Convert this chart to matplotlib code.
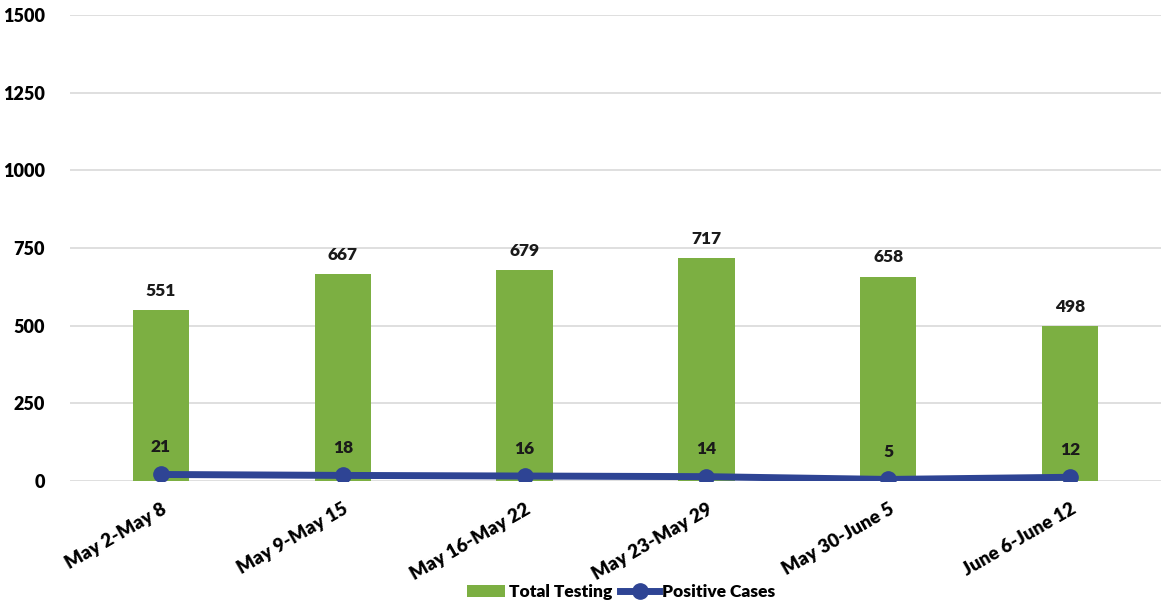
import matplotlib
matplotlib.use("Agg")
import matplotlib.pyplot as plt

categories = ["May 2-May 8", "May 9-May 15", "May 16-May 22", "May 23-May 29", "May 30-June 5", "June 6-June 12"]
total_testing = [551, 667, 679, 717, 658, 498]
positive_cases = [21, 18, 16, 14, 5, 12]
y_ticks = [0, 250, 500, 750, 1000, 1250, 1500]

plt.rcParams['font.family'] = ['Lato', 'DejaVu Sans']
plt.rcParams['font.weight'] = 'bold'

fig = plt.figure(figsize=(11.61, 6.06), dpi=100)
ax = fig.add_axes([70/1161, 1 - 481/606, (1161 - 70)/1161, (481 - 15)/606])

x = list(range(len(categories)))
green = "#7CAF42"
blue = "#2E4494"
bars = ax.bar(x, total_testing, width=0.31, color=green, zorder=2, label="Total Testing")
line, = ax.plot(x, positive_cases, color=blue, lw=5, marker='o', ms=11, zorder=3, label="Positive Cases")

for xi, v in zip(x, total_testing):
    ax.annotate(str(v), (xi, v), xytext=(0, 8), textcoords='offset points',
                ha='center', va='bottom', fontsize=12.5, fontweight='heavy', color='#1a1a1a')
for xi, v in zip(x, positive_cases):
    ax.annotate(str(v), (xi, v), xytext=(0, 14), textcoords='offset points',
                ha='center', va='bottom', fontsize=12.5, fontweight='heavy', color='#1a1a1a')

ax.set_xlim(-0.5, len(categories) - 0.5)
ax.set_ylim(0, 1500)
ax.set_yticks(y_ticks)
ax.set_yticklabels([str(t) for t in y_ticks], fontsize=13, fontweight='heavy')
ax.set_xticks(x)
ax.set_xticklabels(categories, rotation=30, ha='right', rotation_mode='anchor', fontsize=13.5, fontweight='heavy')
ax.tick_params(axis='x', length=0, pad=14)
ax.tick_params(axis='y', length=0, pad=18)
ax.yaxis.grid(True, color='#D9D9D9', lw=1.2, zorder=0)
ax.set_axisbelow(True)
for s in ax.spines.values():
    s.set_visible(False)

fig.legend([bars, line], ["Total Testing", "Positive Cases"], loc='center',
           bbox_to_anchor=(0.535, 1 - 592/606), ncol=2, frameon=False,
           prop={'size': 12.5, 'weight': 'heavy'}, handlelength=2.2, columnspacing=0.5, handletextpad=0.2)

fig.savefig("out.png", dpi=100)
